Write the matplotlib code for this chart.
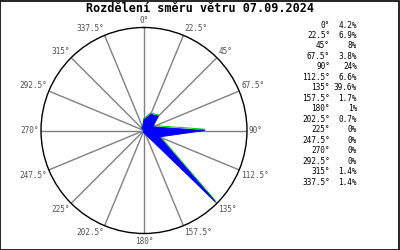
import numpy as np
import matplotlib
matplotlib.use('Agg')
import matplotlib.pyplot as plt
import matplotlib.transforms as mtrans
from matplotlib.patches import Rectangle

title = 'Rozdělení směru větru 07.09.2024'
directions = [0, 22.5, 45, 67.5, 90, 112.5, 135, 157.5,
              180, 202.5, 225, 247.5, 270, 292.5, 315, 337.5]
dir_labels = ['0°', '22.5°', '45°', '67.5°', '90°', '112.5°', '135°', '157.5°',
              '180°', '202.5°', '225°', '247.5°', '270°', '292.5°', '315°', '337.5°']
percent = [4.2, 6.9, 8, 3.8, 24, 6.6, 39.6, 1.7,
           1, 0.7, 0, 0, 0, 0, 1.4, 1.4]
percent_labels = ['4.2%', '6.9%', '8%', '3.8%', '24%', '6.6%', '39.6%', '1.7%',
                  '1%', '0.7%', '0%', '0%', '0%', '0%', '1.4%', '1.4%']

mono = 'DejaVu Sans Mono'
rmax = 40.5

fig = plt.figure(figsize=(4, 2.5), dpi=100)
fig.patch.set_facecolor('white')

ax = fig.add_axes([0.1025, 0.066, 0.515, 0.824], projection='polar')
ax.set_theta_zero_location('N')
ax.set_theta_direction(-1)

th = np.deg2rad(directions + [directions[0]])
r = percent + [percent[0]]
# green outline peeks out a pixel above the blue fill
shift = mtrans.offset_copy(ax.transData, fig=fig, x=0, y=1.3, units='dots')
ax.plot(th, r, color='#00d000', lw=0.7, zorder=2, transform=shift)
ax.fill(th, r, facecolor='#0000ff', edgecolor='#0000ff', lw=0.6, zorder=3)

ax.set_rmax(rmax)
ax.set_rticks([])
ax.set_thetagrids(directions, [''] * len(directions))
ax.xaxis.grid(True, color='#808080', lw=1)
ax.yaxis.grid(False)
ax.spines['polar'].set_color('black')
ax.spines['polar'].set_linewidth(1)

# direction labels anchored at the circle, pushed outward
for d, lab in zip(directions, dir_labels):
    a = np.deg2rad(d)
    s, c = np.sin(a), np.cos(a)
    ha = 'left' if s > 0.1 else ('right' if s < -0.1 else 'center')
    va = 'bottom' if c > 0.1 else ('top' if c < -0.1 else 'center')
    tr = mtrans.offset_copy(ax.transData, fig=fig, x=2 * s, y=3 * c, units='dots')
    ax.text(a, rmax, lab, ha=ha, va=va, transform=tr, fontfamily=mono,
            fontsize=5.6, color='#505050', clip_on=False)

fig.text(0.5, 0.966, title, ha='center', va='center', fontfamily=mono,
         fontsize=8.5, fontweight='bold')

y0 = 1 - 25 / 250
dy = 10.47 / 250
for i, (d, p) in enumerate(zip(dir_labels, percent_labels)):
    y = y0 - i * dy
    fig.text(330 / 400, y, d, ha='right', va='center', fontfamily=mono, fontsize=5.6)
    fig.text(357 / 400, y, p, ha='right', va='center', fontfamily=mono, fontsize=5.6)

fig.add_artist(Rectangle((0.001, 0.002), 0.997, 0.995, transform=fig.transFigure,
                         fill=False, edgecolor='black', lw=1.2))

fig.savefig('out.png', dpi=100)
